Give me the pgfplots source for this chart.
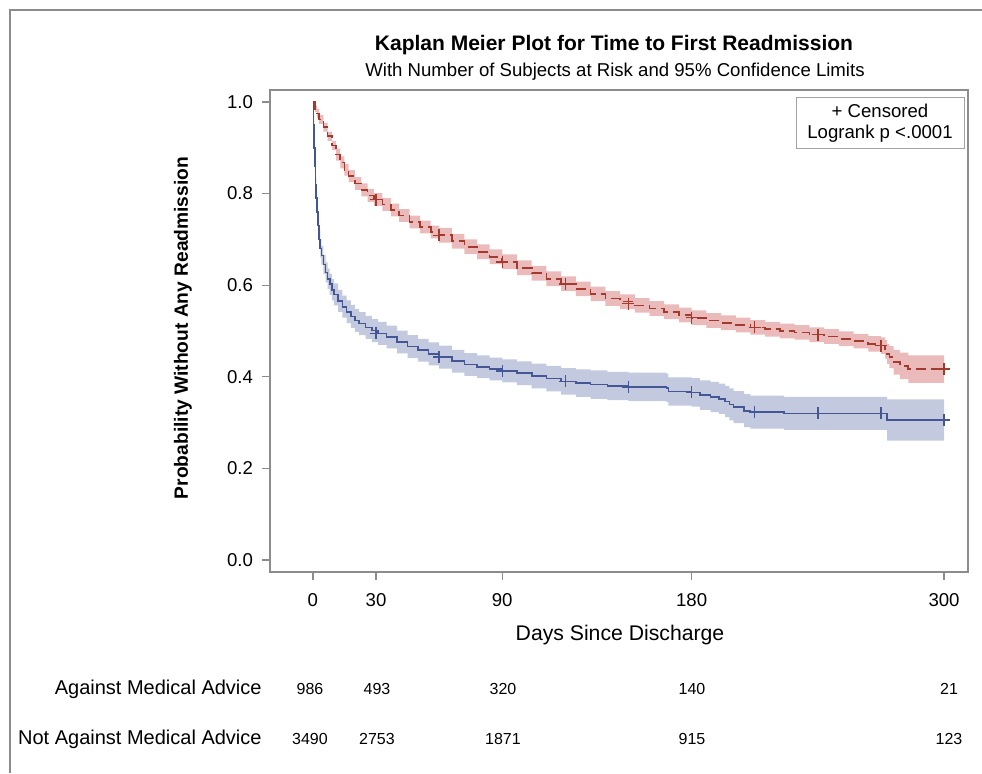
\documentclass[border=0pt]{standalone}
\usepackage{fontspec}
\setmainfont{Liberation Sans}
\usepackage{pgfplots}
\usepackage{pgfplotstable}
\pgfplotsset{compat=1.18}
\usepgfplotslibrary{fillbetween}

\definecolor{kmblue}{HTML}{445694}
\definecolor{kmred}{HTML}{A23A2E}
\definecolor{bandblue}{HTML}{6F7EB3}
\definecolor{bandred}{HTML}{D05B5B}
\definecolor{axgray}{HTML}{8C8C8C}

% Not Against Medical Advice: survival, lower and upper 95% limits
\pgfplotstableread{
x y lo hi
0 1.000 0.995 1.000
1 0.985 0.978 0.992
2 0.975 0.965 0.985
3 0.962 0.952 0.972
5 0.945 0.935 0.955
7 0.925 0.915 0.935
9 0.905 0.895 0.915
11 0.885 0.872 0.898
13 0.868 0.855 0.881
15 0.852 0.839 0.865
17 0.838 0.825 0.851
20 0.822 0.808 0.836
23 0.808 0.794 0.822
26 0.796 0.782 0.810
29 0.787 0.773 0.801
33 0.776 0.762 0.790
37 0.764 0.750 0.778
41 0.752 0.738 0.766
46 0.738 0.724 0.752
51 0.727 0.713 0.741
56 0.716 0.702 0.730
60 0.709 0.693 0.725
66 0.696 0.680 0.712
72 0.684 0.668 0.700
78 0.673 0.657 0.689
84 0.662 0.646 0.678
90 0.651 0.635 0.667
97 0.638 0.622 0.654
104 0.626 0.610 0.642
111 0.614 0.598 0.630
118 0.603 0.587 0.619
125 0.592 0.576 0.608
132 0.581 0.565 0.597
139 0.571 0.555 0.587
146 0.564 0.548 0.580
153 0.556 0.540 0.572
160 0.549 0.533 0.565
167 0.542 0.526 0.558
174 0.535 0.519 0.551
180 0.529 0.513 0.545
187 0.523 0.507 0.539
194 0.518 0.502 0.534
201 0.513 0.497 0.529
208 0.508 0.492 0.524
215 0.504 0.488 0.520
222 0.500 0.484 0.516
229 0.497 0.481 0.513
236 0.492 0.476 0.508
243 0.488 0.472 0.504
250 0.483 0.467 0.499
257 0.478 0.462 0.494
264 0.472 0.455 0.489
270 0.468 0.450 0.486
272 0.460 0.440 0.480
273 0.450 0.428 0.472
274 0.443 0.419 0.467
276 0.432 0.405 0.459
279 0.424 0.395 0.453
283 0.417 0.387 0.447
300 0.417 0.387 0.447
}\redkm

% Against Medical Advice
\pgfplotstableread{
x y lo hi
0 1.000 0.995 1.000
0.3 0.950 0.940 0.960
0.6 0.900 0.888 0.912
0.9 0.860 0.846 0.874
1.2 0.820 0.805 0.835
1.6 0.790 0.774 0.806
2 0.760 0.743 0.777
2.5 0.730 0.712 0.748
3 0.700 0.681 0.719
3.5 0.680 0.660 0.700
4 0.665 0.645 0.685
5 0.645 0.624 0.666
6 0.628 0.606 0.650
7 0.614 0.592 0.636
8 0.602 0.579 0.625
9 0.590 0.567 0.613
10 0.580 0.556 0.604
12 0.566 0.542 0.590
14 0.553 0.529 0.577
16 0.542 0.517 0.567
18 0.532 0.507 0.557
20 0.523 0.498 0.548
22 0.516 0.491 0.541
25 0.508 0.483 0.533
28 0.501 0.476 0.526
31 0.495 0.470 0.520
35 0.487 0.462 0.512
40 0.476 0.451 0.501
45 0.466 0.441 0.491
50 0.458 0.433 0.483
55 0.450 0.425 0.475
60 0.443 0.418 0.468
66 0.434 0.409 0.459
72 0.427 0.402 0.452
78 0.422 0.397 0.447
84 0.417 0.392 0.442
90 0.413 0.388 0.438
97 0.408 0.382 0.434
104 0.402 0.375 0.429
111 0.396 0.368 0.424
118 0.390 0.361 0.419
125 0.386 0.356 0.416
132 0.383 0.352 0.414
140 0.380 0.349 0.411
150 0.378 0.347 0.409
168 0.376 0.345 0.407
169 0.368 0.337 0.399
180 0.366 0.335 0.397
184 0.360 0.328 0.392
189 0.356 0.323 0.389
193 0.352 0.319 0.385
196 0.346 0.312 0.380
198 0.340 0.305 0.375
200 0.334 0.299 0.369
205 0.326 0.290 0.362
208 0.323 0.287 0.359
224 0.320 0.284 0.356
273 0.306 0.261 0.351
300 0.306 0.261 0.351
}\bluekm

\begin{document}
\begin{tikzpicture}
% text and frame, placed in pixel units of the reference
\begin{scope}[x=0.5pt,y=-0.5pt]
\draw[axgray, line width=1pt] (10,773) -- (10,10) -- (982,10);
\node[font=\bfseries\fontsize{10.5}{12}\selectfont] at (614,45) {Kaplan Meier Plot for Time to First Readmission};
\node[font=\fontsize{9.3}{11}\selectfont] at (615,72) {With Number of Subjects at Risk and 95\% Confidence Limits};
\node[rotate=90, font=\bfseries\fontsize{9.6}{11}\selectfont] at (183,328) {Probability Without Any Readmission};
\node[font=\fontsize{10.6}{12}\selectfont] at (620,635) {Days Since Discharge};
\draw[axgray!80, line width=0.5pt] (796,97) rectangle (964,148);
\node[font=\fontsize{9.3}{10}\selectfont] at (880,111) {+ Censored};
\node[font=\fontsize{9.3}{10}\selectfont] at (880,134) {Logrank p <.0001};
\node[anchor=east, inner sep=0pt, font=\fontsize{10}{11}\selectfont] at (262,689) {Against Medical Advice};
\node[anchor=east, inner sep=0pt, font=\fontsize{10}{11}\selectfont] at (262,739) {Not Against Medical Advice};
\foreach \px/\a/\b in {310/986/3490, 377/493/2753, 503/320/1871, 692/140/915, 949/21/123} {
  \node[font=\fontsize{8}{9}\selectfont] at (\px,689) {\a};
  \node[font=\fontsize{8}{9}\selectfont] at (\px,739) {\b};
}
\end{scope}

\begin{axis}[
    at={(135pt,-286pt)}, anchor=south west,
    scale only axis,
    width=349pt, height=241pt,
    xmin=-20.4, xmax=311.4,
    ymin=-0.026, ymax=1.026,
    xtick={0,30,90,180,300},
    ytick={0,0.2,0.4,0.6,0.8,1.0},
    tick align=outside,
    major tick length=4pt,
    xtick pos=bottom, ytick pos=left,
    axis line style={axgray, line width=0.6pt},
    tick style={axgray, line width=0.6pt},
    yticklabel style={/pgf/number format/fixed, /pgf/number format/fixed zerofill, /pgf/number format/precision=1, xshift=-1pt},
    xticklabel style={yshift=-3pt},
    ticklabel style={font=\fontsize{9.3}{10}\selectfont},
    /pgf/number format/assume math mode=true,
]
% 95% confidence bands
\addplot[draw=none, const plot, name path=rlo, forget plot] table[x=x, y=lo] {\redkm};
\addplot[draw=none, const plot, name path=rhi, forget plot] table[x=x, y=hi] {\redkm};
\addplot[bandred, fill opacity=0.42, draw=none] fill between[of=rlo and rhi];
\addplot[draw=none, const plot, name path=blo, forget plot] table[x=x, y=lo] {\bluekm};
\addplot[draw=none, const plot, name path=bhi, forget plot] table[x=x, y=hi] {\bluekm};
\addplot[bandblue, fill opacity=0.42, draw=none] fill between[of=blo and bhi];
% survival curves
\addplot[kmred, const plot, line width=0.8pt, dash pattern=on 5pt off 2.5pt] table[x=x, y=y] {\redkm};
\addplot[kmblue, const plot, line width=0.8pt] table[x=x, y=y] {\bluekm};
% censored observations
\addplot[only marks, mark=+, mark size=3pt, kmred, mark options={solid, line width=0.7pt}] coordinates {
(30,0.787) (60,0.709) (90,0.651) (120,0.603) (150,0.560) (180,0.529) (210,0.508) (240,0.492) (270,0.468) (300,0.417)};
\addplot[only marks, mark=+, mark size=3pt, kmblue, mark options={solid, line width=0.7pt}] coordinates {
(30,0.495) (60,0.443) (90,0.413) (120,0.390) (150,0.378) (180,0.366) (210,0.323) (240,0.320) (270,0.320) (300,0.306)};
\end{axis}

\pgfresetboundingbox
\path[use as bounding box] (0,0) rectangle (491pt,-386.5pt);
\end{tikzpicture}
\end{document}
